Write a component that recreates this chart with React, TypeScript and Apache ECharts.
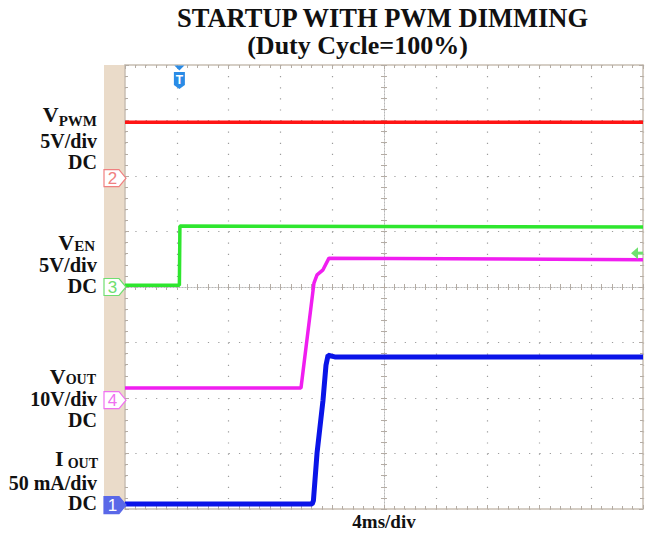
import React, { useEffect, useRef } from "react";
import * as echarts from "echarts";

// ---- data (x: ms, 4 ms/div over 10 div; y: screen divisions, 8 div) ----
const titleLines = ["STARTUP WITH PWM DIMMING", "(Duty Cycle=100%)"];
const timeDivLabel = "4ms/div";

const pwmTime = [0, 40];
const pwmLevel = [2.97, 2.97];

const enTime = [0, 4.2, 4.24, 40];
const enLevel = [0.03, 0.03, 1.1, 1.08];

const voutTime = [0, 13.59, 14.59, 14.83, 15.29, 15.75, 40];
const voutLevel = [-1.82, -1.82, 0.07, 0.22, 0.31, 0.52, 0.49];

const ioutTime = [0, 14.45, 14.55, 14.83, 15.29, 15.52, 15.68, 16.2, 40];
const ioutLevel = [-3.91, -3.91, -3.85, -2.99, -2.04, -1.41, -1.23, -1.26, -1.26];

const markerLabels = ["2", "3", "4", "1"];
const markerLevels = [1.96, 0, -2.04, -3.93];
const triggerTime = 4.2;
const triggerLevel = 0.61;

const channelSymbols = ["V", "V", "V", "I"];
const channelSubs = ["PWM", "EN", "OUT", "OUT"];
const channelScales = ["5V/div", "5V/div", "10V/div", "50 mA/div"];
const channelCoupling = ["DC", "DC", "DC", "DC"];

// ---- styles / layout ----
const serif = '"Liberation Serif", "Times New Roman", serif';
const sans = '"Liberation Sans", Arial, sans-serif';
const traceColors = ["#ff1414", "#2ee62e", "#f01ef0", "#0a14e8"];
const markerColors = ["#f08080", "#70de70", "#f070f0", "#5a68e8"];
const markerFilled = [false, false, false, true];
const gridDot = "#9c9c9c";
const tickColor = "#b4aca4";
const borderColor = "#c8beb2";

const labelLayout = [
  { main: 22, sub: 15, mainBase: 122, subBase: 126, right: 97, gap: 0, lines: [148, 169], fs: 20 },
  { main: 22, sub: 15, mainBase: 250, subBase: 251, right: 95, gap: 0, lines: [272, 293], fs: 20.5 },
  { main: 22, sub: 14, mainBase: 384, subBase: 384, right: 96, gap: 0, lines: [406, 427], fs: 20 },
  { main: 22, sub: 14, mainBase: 466, subBase: 468, right: 98, gap: 4, lines: [490, 510], fs: 20 },
];

function measure(text: string, size: number) {
  const ctx = document.createElement("canvas").getContext("2d");
  if (!ctx) return text.length * size * 0.6;
  ctx.font = `bold ${size}px ${serif}`;
  return ctx.measureText(text).width;
}

function txt(text: string, x: number, baseline: number, size: number, align: string, fill = "#111") {
  return {
    type: "text",
    x,
    y: baseline - 0.34 * size,
    silent: true,
    style: {
      text,
      fill,
      fontSize: size,
      fontWeight: "bold",
      fontFamily: serif,
      align,
      textAlign: align,
      verticalAlign: "middle",
      textVerticalAlign: "middle",
    },
  };
}

function pairs(t: number[], v: number[]) {
  return t.map((x, i) => [x, v[i]]);
}

function edgeAxis(dim: "x" | "y", position: string, split: boolean) {
  const isX = dim === "x";
  return {
    type: "value",
    min: isX ? 0 : -4,
    max: isX ? 40 : 4,
    interval: isX ? 4 : 1,
    position,
    axisLine: { show: true, onZero: false, lineStyle: { color: borderColor, width: 1.5 } },
    axisTick: { show: true, inside: true, length: 4, lineStyle: { color: tickColor } },
    minorTick: { show: true, splitNumber: 5, length: 3, lineStyle: { color: tickColor } },
    axisLabel: { show: false },
    splitLine: {
      show: split,
      lineStyle: { color: gridDot, width: 1.2, type: isX ? [1.2, 9.9] : [1.2, 9.16] },
    },
    minorSplitLine: { show: false },
  };
}

function centerAxis(dim: "x" | "y", position: string) {
  const isX = dim === "x";
  return {
    type: "value",
    min: isX ? 0 : -4,
    max: isX ? 40 : 4,
    interval: isX ? 4 : 1,
    position,
    axisLine: {
      show: true,
      onZero: true,
      onZeroAxisIndex: isX ? 0 : 4,
      lineStyle: { color: "#b8b8b8", width: 1, type: [1, 2] },
    },
    axisTick: { show: true, inside: true, length: 3, lineStyle: { color: tickColor } },
    minorTick: { show: true, splitNumber: 5, length: 3, lineStyle: { color: tickColor } },
    axisLabel: { show: false },
    splitLine: { show: false },
  };
}

export default function App() {
  const ref = useRef<HTMLDivElement>(null);

  useEffect(() => {
    if (!ref.current) return;
    const chart = echarts.init(ref.current, undefined, { renderer: "svg" });

    const graphics: any[] = [
      { type: "rect", shape: { x: 104, y: 65, width: 21, height: 444 }, style: { fill: "#eadbc9" }, silent: true, z: -10 },
      txt(titleLines[0], 382.5, 27.5, 26.5, "center"),
      txt(titleLines[1], 357.5, 54, 26, "center"),
      txt(timeDivLabel, 384, 528, 19, "center"),
    ];

    labelLayout.forEach((L, i) => {
      const subW = measure(channelSubs[i], L.sub);
      graphics.push(txt(channelSubs[i], L.right, L.subBase, L.sub, "right"));
      graphics.push(txt(channelSymbols[i], L.right - subW - L.gap, L.mainBase, L.main, "right"));
      graphics.push(txt(channelScales[i], 97, L.lines[0], L.fs, "right"));
      graphics.push(txt(channelCoupling[i], 97, L.lines[1], L.fs, "right"));
    });

    const option: any = {
      animation: false,
      backgroundColor: "#ffffff",
      grid: { left: 125, top: 65, width: 518, height: 444, show: false },
      xAxis: [
        edgeAxis("x", "bottom", true),
        edgeAxis("x", "top", false),
        centerAxis("x", "bottom"),
        centerAxis("x", "top"),
        { type: "value", min: -20, max: 20, show: false, axisLine: { onZero: false } },
      ],
      yAxis: [
        edgeAxis("y", "left", true),
        edgeAxis("y", "right", false),
        centerAxis("y", "left"),
        centerAxis("y", "right"),
      ],
      graphic: graphics,
      series: [
        ...[
          [pwmTime, pwmLevel],
          [enTime, enLevel],
          [voutTime, voutLevel],
          [ioutTime, ioutLevel],
        ].map(([t, v], i) => ({
          type: "line",
          xAxisIndex: 0,
          yAxisIndex: 0,
          data: pairs(t as number[], v as number[]),
          showSymbol: false,
          symbol: "none",
          silent: true,
          z: 3 + i,
          lineStyle: { color: traceColors[i], width: i === 3 ? 5 : 3.5 },
        })),
        {
          type: "custom",
          xAxisIndex: 0,
          yAxisIndex: 0,
          silent: true,
          z: 10,
          data: markerLevels.map((v, i) => [0, v, i]),
          renderItem: (_p: any, api: any) => {
            const idx = api.value(2);
            const c = api.coord([api.value(0), api.value(1)]);
            const x = c[0];
            const y = c[1];
            const col = markerColors[idx];
            const filled = markerFilled[idx];
            return {
              type: "group",
              children: [
                {
                  type: "polygon",
                  shape: { points: [[x - 21, y - 8.5], [x - 6, y - 8.5], [x + 1, y], [x - 6, y + 8.5], [x - 21, y + 8.5]] },
                  style: { fill: filled ? col : "#ffffff", stroke: col, lineWidth: 1.2 },
                },
                {
                  type: "text",
                  x: x - 12.5,
                  y: y + 0.5,
                  style: {
                    text: markerLabels[idx],
                    fill: filled ? "#ffffff" : col,
                    fontSize: 17,
                    fontFamily: sans,
                    align: "center",
                    textAlign: "center",
                    verticalAlign: "middle",
                    textVerticalAlign: "middle",
                  },
                },
              ],
            };
          },
        },
        {
          type: "custom",
          xAxisIndex: 0,
          yAxisIndex: 0,
          silent: true,
          z: 10,
          data: [[triggerTime, 4]],
          renderItem: (_p: any, api: any) => {
            const c = api.coord([api.value(0), api.value(1)]);
            const x = c[0];
            const y = c[1];
            const col = "#2a8be6";
            return {
              type: "group",
              children: [
                { type: "polygon", shape: { points: [[x - 5, y + 0.5], [x + 5, y + 0.5], [x, y + 5.5]] }, style: { fill: col } },
                {
                  type: "polygon",
                  shape: { points: [[x - 5.5, y + 7], [x + 5.5, y + 7], [x + 5.5, y + 20], [x, y + 24], [x - 5.5, y + 20]] },
                  style: { fill: col },
                },
                {
                  type: "text",
                  x,
                  y: y + 15,
                  style: {
                    text: "T",
                    fill: "#ffffff",
                    fontSize: 12,
                    fontWeight: "bold",
                    fontFamily: sans,
                    align: "center",
                    textAlign: "center",
                    verticalAlign: "middle",
                    textVerticalAlign: "middle",
                  },
                },
              ],
            };
          },
        },
        {
          type: "custom",
          xAxisIndex: 0,
          yAxisIndex: 0,
          silent: true,
          z: 10,
          data: [[40, triggerLevel]],
          renderItem: (_p: any, api: any) => {
            const c = api.coord([api.value(0), api.value(1)]);
            const x = c[0];
            const y = c[1];
            const col = "#6ee06e";
            return {
              type: "group",
              children: [
                { type: "polygon", shape: { points: [[x - 12, y], [x - 5, y - 6], [x - 5, y + 6]] }, style: { fill: col } },
                { type: "rect", shape: { x: x - 5, y: y - 1.5, width: 5, height: 3 }, style: { fill: col } },
              ],
            };
          },
        },
      ],
    };

    chart.setOption(option);
    return () => chart.dispose();
  }, []);

  return (
    <div
      ref={ref}
      style={{ position: "absolute", left: 0, top: 0, width: 649, height: 535, background: "#fff" }}
    />
  );
}
